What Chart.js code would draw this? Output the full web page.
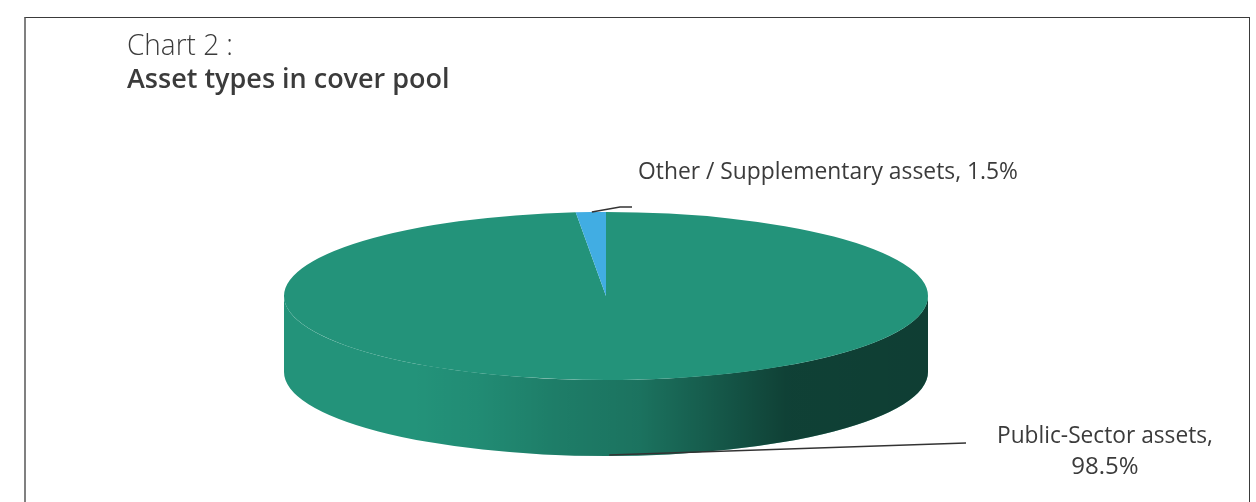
<!DOCTYPE html>
<html>
<head>
<meta charset="utf-8">
<script src="https://cdn.jsdelivr.net/npm/chart.js@4.4.1/dist/chart.umd.min.js"></script>
<style>
    html, body { margin: 0; padding: 0; background: #fff; }
    #wrap { position: relative; width: 1256px; height: 502px; overflow: hidden; }
    #frame {
        position: absolute; left: 24px; top: 17px; width: 1223px; height: 520px;
        border-top: 1px solid #3a3a3a; border-right: 1px solid #3a3a3a; border-left: 2px solid #808080;
    }
    #pie { position: absolute; left: 0; top: 0; }
</style>
</head>
<body>
<div id="wrap">
    <div id="frame"></div>
    <canvas id="pie" width="1256" height="502"></canvas>
</div>
<script>
// --- Data ---
const categories = ['Public-Sector assets', 'Other / Supplementary assets'];
const shares = [98.5, 1.5];
const sliceColors = ['#23937A', '#41ADE3'];

// --- Layout of the tilted pie (screen pixels) ---
const PIE = { cx: 606, cy: 296, rx: 322, ry: 84, depth: 76 };
// darkening of the side wall from left to right (black alpha)
const wallShade = [[0, 0], [0.2, 0], [0.3, 0.05], [0.42, 0.15], [0.55, 0.22], [0.66, 0.38], [0.78, 0.56], [1, 0.58]];

const FONT = '"Open Sans", "Noto Sans", sans-serif';
const TEXT_COLOR = '#3b3b3b';

const ellipsePoint = (angle, drop = 0) => ({
    x: PIE.cx + PIE.rx * Math.cos(angle),
    y: PIE.cy + drop + PIE.ry * Math.sin(angle)
});

// --- 3D pie plugin: draws the side wall, then squashes the arcs into an ellipse ---
const tiltPlugin = {
    id: 'tilt',
    beforeDatasetsDraw(chart) {
        const ctx = chart.ctx;
        const arcs = chart.getDatasetMeta(0).data;

        // side wall (only the front half, angles 0..PI, is visible)
        arcs.forEach((arc, i) => {
            const s = arc.startAngle, e = arc.endAngle;
            [-2 * Math.PI, 0, 2 * Math.PI].forEach(k => {
                const a0 = Math.max(s + k, 0);
                const a1 = Math.min(e + k, Math.PI);
                if (a1 <= a0) return;
                ctx.save();
                ctx.beginPath();
                ctx.ellipse(PIE.cx, PIE.cy, PIE.rx, PIE.ry, 0, a0, a1);
                ctx.ellipse(PIE.cx, PIE.cy + PIE.depth, PIE.rx, PIE.ry, 0, a1, a0, true);
                ctx.closePath();
                ctx.fillStyle = sliceColors[i];
                ctx.fill();
                const g = ctx.createLinearGradient(PIE.cx - PIE.rx, 0, PIE.cx + PIE.rx, 0);
                wallShade.forEach(([p, a]) => g.addColorStop(p, `rgba(0,0,0,${a})`));
                ctx.fillStyle = g;
                ctx.fill();
                ctx.restore();
            });
        });

        // map the library's circle onto the top ellipse
        const first = arcs[0];
        const r = first.outerRadius;
        ctx.save();
        ctx.translate(PIE.cx, PIE.cy);
        ctx.scale(PIE.rx / r, PIE.ry / r);
        ctx.translate(-first.x, -first.y);
    },
    afterDatasetsDraw(chart) {
        chart.ctx.restore();
    }
};

// --- Title, labels and leader lines ---
const labelPlugin = {
    id: 'labels',
    afterDraw(chart) {
        const ctx = chart.ctx;
        const arcs = chart.getDatasetMeta(0).data;
        ctx.save();
        ctx.fillStyle = TEXT_COLOR;
        ctx.textBaseline = 'alphabetic';

        // title
        ctx.textAlign = 'left';
        ctx.font = `300 30px ${FONT}`;
        ctx.fillText('Chart 2 :', 127, 55, 106);
        ctx.font = `600 27px ${FONT}`;
        ctx.fillText('Asset types in cover pool', 127, 88, 329);

        // leader lines
        ctx.strokeStyle = '#333';
        ctx.lineWidth = 1.5;

        const other = arcs[1];
        const pOther = ellipsePoint((other.startAngle + other.endAngle) / 2);
        ctx.beginPath();
        ctx.moveTo(pOther.x + 1, pOther.y);
        ctx.lineTo(620, 207);
        ctx.lineTo(632, 207);
        ctx.stroke();

        const pPublic = ellipsePoint(Math.PI / 2 - 0.01, PIE.depth);
        ctx.beginPath();
        ctx.moveTo(pPublic.x, pPublic.y - 1);
        ctx.lineTo(966, 443);
        ctx.stroke();

        // labels
        ctx.font = `400 24px ${FONT}`;
        ctx.textAlign = 'left';
        ctx.fillText(`${categories[1]}, ${shares[1]}%`, 638, 179, 380);

        ctx.textAlign = 'center';
        ctx.fillText(`${categories[0]},`, 1105, 443, 216);
        ctx.fillText(`${shares[0]}%`, 1105, 474, 69);
        ctx.restore();
    }
};

new Chart(document.getElementById('pie'), {
    type: 'pie',
    data: {
        labels: categories,
        datasets: [{
            data: shares,
            backgroundColor: sliceColors,
            borderWidth: 0,
            clip: false
        }]
    },
    options: {
        responsive: false,
        animation: false,
        events: [],
        rotation: 0,
        plugins: {
            legend: { display: false },
            tooltip: { enabled: false }
        }
    },
    plugins: [tiltPlugin, labelPlugin]
});
</script>
</body>
</html>
